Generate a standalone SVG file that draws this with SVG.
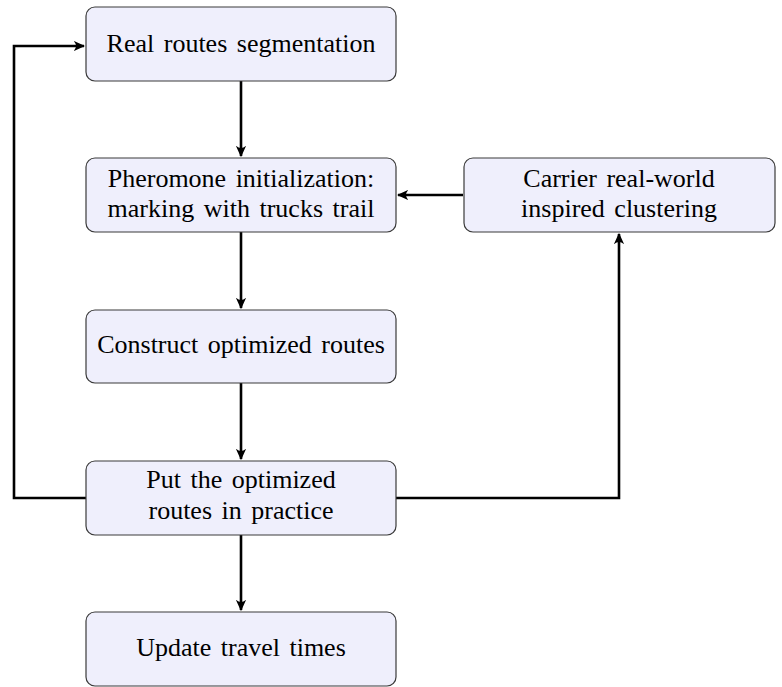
<svg xmlns="http://www.w3.org/2000/svg" width="782" height="687" viewBox="0 0 782 687">
  <style>
    .box { fill: #efeffc; stroke: #3a3a3a; stroke-width: 1.2; }
    .edge { fill: none; stroke: #000; stroke-width: 2.6; stroke-linejoin: miter; marker-end: url(#tip); }
  </style>
  <defs>
    <marker id="tip" viewBox="0 0 10 10" refX="9" refY="5" markerWidth="4.4" markerHeight="4.4" markerUnits="strokeWidth" orient="auto">
      <path d="M0,0.5 Q4,5 0,9.5 L10,5 Z" fill="#000"/>
    </marker>
  </defs>

  <g id="edges">
    <path class="edge" d="M241,81 V156"/>
    <path class="edge" d="M241,232 V308"/>
    <path class="edge" d="M241,383 V459"/>
    <path class="edge" d="M241,535 V610"/>
    <path class="edge" d="M463,195 H398"/>
    <path class="edge" d="M396,498 H619 V234"/>
    <path class="edge" d="M86,498 H14 V46 H84"/>
  </g>

  <g font-family="'Liberation Serif', 'Times New Roman', serif" font-size="26" word-spacing="3" text-anchor="middle" fill="#000">
    <g id="n-segmentation">
      <rect class="box" x="86" y="7" width="310" height="74" rx="9"/>
      <text x="241" y="52">Real routes segmentation</text>
    </g>
    <g id="n-pheromone">
      <rect class="box" x="86" y="158" width="310" height="74" rx="9"/>
      <text x="241" y="187">Pheromone initialization:</text>
      <text x="241" y="217">marking with trucks trail</text>
    </g>
    <g id="n-clustering">
      <rect class="box" x="464" y="158" width="311" height="74" rx="9"/>
      <text x="619" y="187">Carrier real-world</text>
      <text x="619" y="217">inspired clustering</text>
    </g>
    <g id="n-construct">
      <rect class="box" x="86" y="310" width="310" height="73" rx="9"/>
      <text x="241" y="353">Construct optimized routes</text>
    </g>
    <g id="n-practice">
      <rect class="box" x="86" y="461" width="310" height="74" rx="9"/>
      <text x="241" y="488">Put the optimized</text>
      <text x="241" y="519">routes in practice</text>
    </g>
    <g id="n-update">
      <rect class="box" x="86" y="612" width="310" height="74" rx="9"/>
      <text x="241" y="656">Update travel times</text>
    </g>
  </g>
</svg>
